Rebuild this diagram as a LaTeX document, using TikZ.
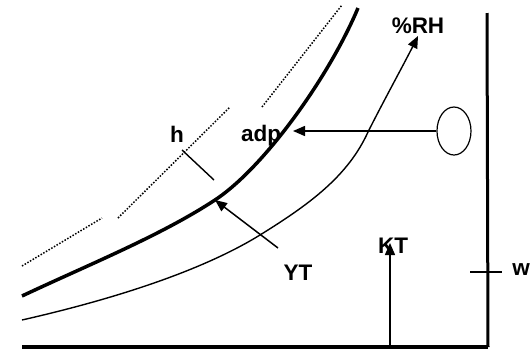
\documentclass[tikz,border=0pt]{standalone}
\usepackage{fontspec}
\setmainfont{Liberation Sans}[BoldFont={Liberation Sans Bold}]
\usetikzlibrary{arrows.meta,shapes.geometric}
\begin{document}
\begin{tikzpicture}[x=1pt,y=-1pt,
  lbl/.style={font=\fontsize{22.5}{27}\selectfont\bfseries, inner sep=0pt, anchor=base},
  arr/.style={line width=1.5pt, -{Triangle[length=12pt,width=10pt]}},
  dotline/.style={line width=1.5pt, dash pattern=on 1.5pt off 1.6pt},
  thin curve/.style={line width=1.4pt},
  thick curve/.style={line width=3.5pt}]
\useasboundingbox (0,0) rectangle (531,354);
% axes
\coordinate (o) at (22,347);
\coordinate (br) at (488,347);
\coordinate (tr) at (487,13);
\draw[line width=4pt] (o) -- (br);
\draw[line width=3pt] (br) -- (tr);
% tick w
\coordinate (wa) at (470,272);
\coordinate (wb) at (502,272);
\draw[line width=1.4pt] (wa) -- (wb);
\node[lbl] (w) at (521,275) {w};
% dotted lines
\coordinate (d1a) at (22,266); \coordinate (d1b) at (102,218);
\coordinate (d2a) at (118,218); \coordinate (d2b) at (230,107);
\coordinate (d3a) at (262,107); \coordinate (d3b) at (342,5);
\draw[dotline] (d1a) -- (d1b);
\draw[dotline] (d2a) -- (d2b);
\draw[dotline] (d3a) -- (d3b);
% thick curve
\coordinate (k0) at (22,296);
\coordinate (k1) at (215,200);
\coordinate (k2) at (358,8);
\draw[thick curve] (k0) .. controls (90,264) and (160,236) .. (k1)
  .. controls (265,167) and (330,75) .. (k2);
% thin curve with arrow
\coordinate (t0) at (22,320);
\coordinate (t1) at (260,235);
\coordinate (t2) at (368,132);
\coordinate (t3) at (418,36);
\draw[thin curve, -{Triangle[length=12pt,width=10pt]}] (t0) .. controls (110,300) and (200,272) .. (t1)
  .. controls (310,204) and (348,176) .. (t2)
  .. controls (382,104) and (405,62) .. (t3);
% h tick
\coordinate (ha) at (182,150);
\coordinate (hb) at (214,180);
\draw[line width=1.4pt] (ha) -- (hb);
\node[lbl] (h) at (177,142) {h};
% adp
\node[lbl] (adp) at (261,141) {adp};
\node[draw, ellipse, line width=1.2pt, minimum width=34pt, minimum height=48pt, inner sep=0pt] (e) at (454,131) {};
\coordinate (adptip) at (293,131);
\draw[arr] (e.west) -- (adptip);
% YT
\coordinate (yts) at (278,248);
\coordinate (ytt) at (215,200);
\draw[arr] (yts) -- (ytt);
\node[lbl] (yt) at (298,280) {YT};
% KT
\coordinate (kts) at (390,345);
\coordinate (ktt) at (390,243);
\draw[arr] (kts) -- (ktt);
\node[lbl] (kt) at (393,253) {KT};
% %RH
\node[lbl] (rh) at (418,33) {\%RH};
\end{tikzpicture}
\end{document}
